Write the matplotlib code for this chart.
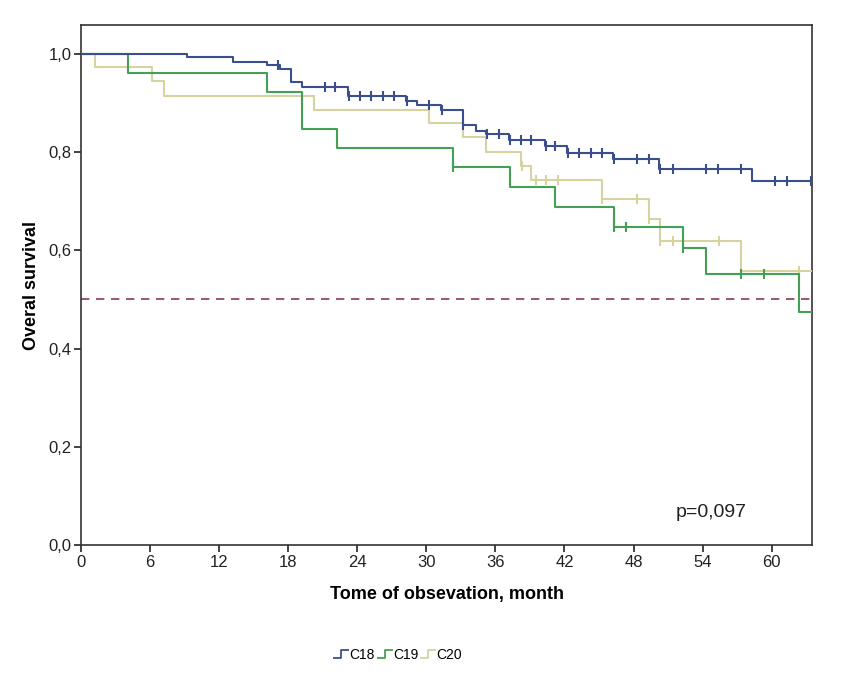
import matplotlib
matplotlib.use("Agg")
import matplotlib.pyplot as plt
from matplotlib.lines import Line2D
from matplotlib.path import Path
from matplotlib import font_manager
import numpy as np

plt.rcParams['font.family'] = ['Liberation Sans', 'DejaVu Sans']

# ---- data ----
c18_t = [0, 9.2, 13.2, 16.2, 17.3, 18.2, 19.2, 23.2, 28.2, 29.2, 31.25, 33.2, 34.3, 35.2, 37.2, 40.3, 42.2, 46.2, 50.2, 58.3, 63.5]
c18_s = [1.0, 0.993, 0.983, 0.977, 0.969, 0.942, 0.933, 0.915, 0.905, 0.896, 0.886, 0.855, 0.844, 0.837, 0.825, 0.813, 0.799, 0.786, 0.765, 0.742, 0.742]
c18_cens = [17.1, 21.2, 22.1, 23.3, 24.2, 25.2, 26.2, 27.2, 28.3, 30.2, 31.4, 33.2, 35.3, 36.3, 37.3, 38.2, 39.1,
            40.4, 41.2, 42.3, 43.3, 44.3, 45.3, 46.3, 48.3, 49.3, 50.3, 51.4, 54.3, 55.3, 57.3, 60.3, 61.3, 63.4]

c19_t = [0, 4.1, 16.2, 19.2, 22.2, 32.3, 37.3, 41.2, 46.3, 52.3, 54.3, 62.35, 63.5]
c19_s = [1.0, 0.962, 0.923, 0.847, 0.808, 0.769, 0.729, 0.689, 0.648, 0.604, 0.552, 0.474, 0.474]
c19_cens = [32.3, 46.3, 47.3, 52.3, 57.3, 59.3]

c20_t = [0, 1.2, 6.2, 7.2, 20.2, 30.2, 33.2, 35.2, 38.25, 39.1, 45.3, 49.3, 50.3, 57.3, 63.5]
c20_s = [1.0, 0.973, 0.944, 0.914, 0.886, 0.859, 0.830, 0.801, 0.772, 0.743, 0.704, 0.663, 0.620, 0.557, 0.557]
c20_cens = [38.3, 39.5, 40.4, 41.4, 45.3, 48.3, 49.3, 50.3, 51.4, 55.4, 57.3, 62.4]

series_names = ["C18", "C19", "C20"]
colors = ["#3b4f8c", "#45a055", "#d6d3a0"]

x_ticks = [0, 6, 12, 18, 24, 30, 36, 42, 48, 54, 60]
y_ticks = [0.0, 0.2, 0.4, 0.6, 0.8, 1.0]
y_tick_labels = ["0,0", "0,2", "0,4", "0,6", "0,8", "1,0"]
median_line = 0.5
p_text = "p=0,097"

available = {f.name for f in font_manager.fontManager.ttflist}
tick_family = ['Liberation Sans Narrow', 'Liberation Sans'] if 'Liberation Sans Narrow' in available else ['Liberation Sans']

# ---- figure ----
fig = plt.figure(figsize=(8.43, 6.76), dpi=100)
ax = fig.add_axes([81 / 843, 131 / 676, 731 / 843, 520 / 676])

def surv_at(t_arr, s_arr, t):
    idx = np.searchsorted(t_arr, t, side='right') - 1
    return s_arr[max(idx, 0)]

data = [(c18_t, c18_s, c18_cens), (c19_t, c19_s, c19_cens), (c20_t, c20_s, c20_cens)]
for i in [2, 1, 0]:
    t, s, cens = data[i]
    ax.step(t, s, where='post', color=colors[i], lw=1.5, zorder=3 + (2 - i))
    cy = [surv_at(t, s, c) for c in cens]
    ax.plot(cens, cy, linestyle='none', marker='|', markersize=7, markeredgewidth=1.5,
            color=colors[i], zorder=3 + (2 - i))

ax.axhline(median_line, color="#8c3a4f", lw=1.2, ls=(0, (5, 4)), zorder=2)

ax.set_xlim(0, 63.5)
ax.set_ylim(0, 1.059)
ax.set_xticks(x_ticks)
ax.set_xticklabels([str(v) for v in x_ticks])
ax.set_yticks(y_ticks)
ax.set_yticklabels(y_tick_labels)
ax.tick_params(direction='out', length=5, width=1.2, labelsize=12, colors='#222222', pad=2)
for lab in ax.get_xticklabels() + ax.get_yticklabels():
    lab.set_family(tick_family)
for sp in ax.spines.values():
    sp.set_linewidth(1.2)
    sp.set_color('#333333')

ax.set_xlabel("Tome of obsevation, month", fontsize=13, fontweight='bold', labelpad=12)
ax.set_ylabel("Overal survival", fontsize=13, fontweight='bold', labelpad=6)
ax.text(0.91, 0.047, p_text, transform=ax.transAxes, fontsize=14, ha='right', va='bottom', color='#222222')

# legend with step-shaped symbols
step_path = Path([(-1, -0.5), (0, -0.5), (0, 0.5), (1, 0.5)],
                 [Path.MOVETO, Path.LINETO, Path.LINETO, Path.LINETO])
handles = [Line2D([], [], linestyle='none', marker=step_path, markersize=12,
                  markerfacecolor='none', markeredgecolor=c, markeredgewidth=1.3)
           for c in colors]
fig.legend(handles, series_names, loc='center', bbox_to_anchor=(398 / 843, 1 - 655 / 676),
           ncol=3, frameon=False, fontsize=10, handlelength=1.0, handletextpad=0.1,
           columnspacing=0.2, borderaxespad=0)

fig.savefig("out.png", dpi=100)
